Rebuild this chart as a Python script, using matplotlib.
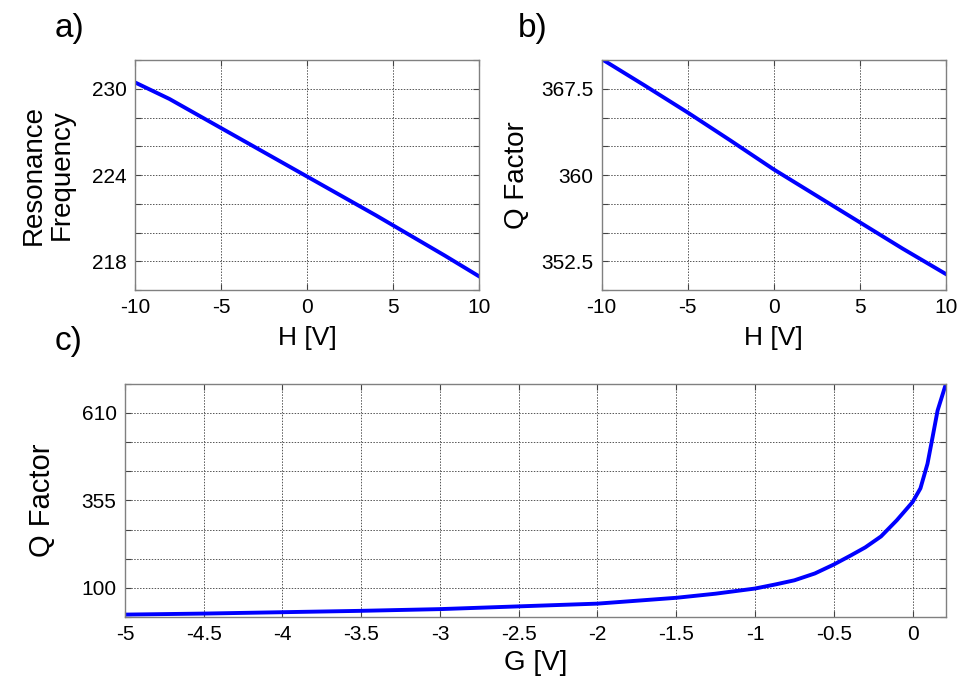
import matplotlib
matplotlib.use('Agg')
import matplotlib.pyplot as plt
import numpy as np

plt.rcParams['font.family'] = ['Liberation Sans', 'DejaVu Sans']
plt.rcParams['axes.unicode_minus'] = False

# panel a: resonance frequency vs H
h_a = [-10, -8, -6, -4, -2, 0, 2, 4, 6, 8, 10]
freq_a = [230.45, 229.3, 227.95, 226.6, 225.25, 223.9, 222.55, 221.2, 219.8, 218.4, 216.95]

# panel b: Q factor vs H
h_b = [-10, -7.5, -5, -2.5, 0, 2.5, 5, 7.5, 10]
q_b = [370.1, 367.8, 365.45, 363.0, 360.5, 358.2, 355.9, 353.6, 351.4]

# panel c: Q factor vs G
g_c = [-5, -4.5, -4, -3.5, -3, -2.5, -2, -1.5, -1.25, -1, -0.87, -0.75, -0.62,
       -0.5, -0.39, -0.3, -0.2, -0.1, 0, 0.05, 0.095, 0.127, 0.159, 0.21]
q_c = [22, 25, 29, 33, 38, 46, 54, 71, 83, 98, 110, 122, 142,
       168, 195, 218, 250, 297, 350, 390, 462, 539, 617, 692]

line_col = '#0000ff'
spine_col = '#808080'


def style_axes(ax, yticks, ylabels):
    ax.set_yticks(yticks)
    ax.set_yticklabels(ylabels)
    ax.grid(True, color='#555555', linestyle=(0, (1.5, 1.5)), linewidth=0.7)
    ax.tick_params(direction='in', length=4, color='#444444', labelsize=15,
                   right=True, top=True, pad=6)
    for s in ax.spines.values():
        s.set_color(spine_col)
        s.set_linewidth(1.0)


fig = plt.figure(figsize=(9.61, 6.82), dpi=100)

# a)
ax1 = fig.add_axes([0.1405, 0.5748, 0.358, 0.337])
ax1.plot(h_a, freq_a, color=line_col, linewidth=2.8)
ax1.set_xlim(-10, 10)
ax1.set_ylim(216, 232)
ax1.set_xticks([-10, -5, 0, 5, 10])
yt = np.arange(216, 233, 2)
style_axes(ax1, yt, [str(v) if v in (218, 224, 230) else '' for v in yt])
ax1.set_xlabel('H [V]', fontsize=19, labelpad=6)
ax1.set_ylabel('Resonance\nFrequency', fontsize=20, labelpad=12, linespacing=1.1)
fig.text(0.057, 0.946, 'a)', fontsize=24)

# b)
ax2 = fig.add_axes([0.626, 0.5748, 0.358, 0.337])
ax2.plot(h_b, q_b, color=line_col, linewidth=2.8)
ax2.set_xlim(-10, 10)
ax2.set_ylim(350, 370)
ax2.set_xticks([-10, -5, 0, 5, 10])
yt = np.arange(350, 370.1, 2.5)
style_axes(ax2, yt, [('%g' % v) if v in (352.5, 360, 367.5) else '' for v in yt])
ax2.set_xlabel('H [V]', fontsize=19, labelpad=6)
ax2.set_ylabel('Q Factor', fontsize=20, labelpad=8)
fig.text(0.539, 0.946, 'b)', fontsize=24)

# c)
ax3 = fig.add_axes([0.130, 0.0953, 0.854, 0.342])
ax3.plot(g_c, q_c, color=line_col, linewidth=2.8)
ax3.set_xlim(-5, 0.21)
ax3.set_ylim(15, 695)
ax3.set_xticks(np.arange(-5, 0.01, 0.5))
ax3.set_xticklabels(['%g' % v for v in np.arange(-5, 0.01, 0.5)])
yt = np.arange(15, 696, 85)
style_axes(ax3, yt, [str(v) if v in (100, 355, 610) else '' for v in yt])
ax3.set_xlabel('G [V]', fontsize=20, labelpad=4)
ax3.set_ylabel('Q Factor', fontsize=21, labelpad=18)
fig.text(0.057, 0.487, 'c)', fontsize=24)

fig.savefig('out.png', dpi=100)
